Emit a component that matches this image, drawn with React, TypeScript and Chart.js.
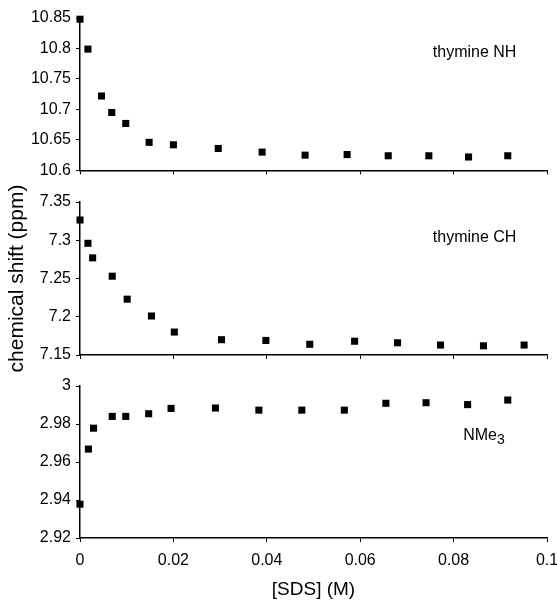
import React, { useEffect, useRef } from "react";
import { Chart, registerables } from "chart.js";

Chart.register(...registerables);

// ---- data ----
const sdsNH = [0, 0.0017, 0.0046, 0.0068, 0.0098, 0.0148, 0.02, 0.0296, 0.039, 0.0482, 0.0572, 0.066, 0.0747, 0.0832, 0.0916];
const shiftNH = [10.848, 10.799, 10.722, 10.695, 10.677, 10.646, 10.642, 10.636, 10.63, 10.625, 10.626, 10.624, 10.624, 10.622, 10.624];

const sdsCH = [0, 0.0017, 0.0027, 0.0069, 0.0101, 0.0153, 0.0202, 0.0303, 0.0398, 0.0492, 0.0588, 0.068, 0.0772, 0.0864, 0.0951];
const shiftCH = [7.3265, 7.296, 7.277, 7.253, 7.223, 7.201, 7.18, 7.17, 7.169, 7.164, 7.168, 7.166, 7.163, 7.162, 7.163];

const sdsNMe = [0, 0.0018, 0.0029, 0.0069, 0.0098, 0.0147, 0.0195, 0.029, 0.0383, 0.0475, 0.0566, 0.0655, 0.0741, 0.083, 0.0916];
const shiftNMe = [2.9378, 2.9668, 2.9778, 2.984, 2.984, 2.9854, 2.9882, 2.9884, 2.9873, 2.9873, 2.9873, 2.9909, 2.9912, 2.9902, 2.9926];

const xTickValues = [0, 0.02, 0.04, 0.06, 0.08, 0.1];
const xTickLabels = ["0", "0.02", "0.04", "0.06", "0.08", "0.1"];
const nhTickValues = [10.6, 10.65, 10.7, 10.75, 10.8, 10.85];
const nhTickLabels = ["10.6", "10.65", "10.7", "10.75", "10.8", "10.85"];
const chTickValues = [7.15, 7.2, 7.25, 7.3, 7.35];
const chTickLabels = ["7.15", "7.2", "7.25", "7.3", "7.35"];
const nmeTickValues = [2.92, 2.94, 2.96, 2.98, 3];
const nmeTickLabels = ["2.92", "2.94", "2.96", "2.98", "3"];

const labelNH = { text: "thymine NH", sub: "", x: 0.0845, y: 10.793 };
const labelCH = { text: "thymine CH", sub: "", x: 0.0845, y: 7.303 };
const labelNMe = { text: "NMe", sub: "3", x: 0.0865, y: 2.974 };

const xTitle = "[SDS] (M)";
const yTitle = "chemical shift (ppm)";

const FONT = "'Liberation Sans', Arial, Helvetica, sans-serif";

const panelLabelPlugin = {
  id: "panelLabel",
  afterDatasetsDraw(chart: any, _args: any, opts: any) {
    if (!opts || !opts.text) return;
    const { ctx, scales } = chart;
    const px = scales.x.getPixelForValue(opts.x);
    const py = scales.y.getPixelForValue(opts.y);
    const size = opts.size || 16;
    ctx.save();
    ctx.fillStyle = "#000";
    ctx.textBaseline = "middle";
    ctx.textAlign = "left";
    ctx.font = `${size}px ${FONT}`;
    const wMain = ctx.measureText(opts.text).width;
    let wSub = 0;
    if (opts.sub) {
      ctx.font = `${Math.round(size * 0.85)}px ${FONT}`;
      wSub = ctx.measureText(opts.sub).width;
    }
    const start = px - (wMain + wSub) / 2;
    ctx.font = `${size}px ${FONT}`;
    ctx.fillText(opts.text, start, py);
    if (opts.sub) {
      ctx.font = `${Math.round(size * 0.85)}px ${FONT}`;
      ctx.fillText(opts.sub, start + wMain, py + size * 0.3);
    }
    ctx.restore();
  },
};

function makeConfig(p: any) {
  return {
    type: "scatter",
    data: {
      datasets: [
        {
          data: p.xs.map((x: number, i: number) => ({ x, y: p.ys[i] })),
          pointStyle: "rect",
          pointRadius: 5,
          pointHoverRadius: 5,
          backgroundColor: "#000",
          borderColor: "#000",
          borderWidth: 0,
          showLine: false,
          clip: false,
        },
      ],
    },
    plugins: [panelLabelPlugin],
    options: {
      responsive: false,
      animation: false,
      devicePixelRatio: 1,
      layout: { padding: { top: p.padTop, right: 10, left: 0, bottom: 0 } },
      plugins: {
        legend: { display: false },
        tooltip: { enabled: false },
        panelLabel: { ...p.label, size: 16 },
      },
      scales: {
        x: {
          type: "linear",
          min: 0,
          max: 0.1,
          afterBuildTicks: (s: any) => {
            s.ticks = xTickValues.map((v) => ({ value: v }));
          },
          afterFit: (s: any) => {
            s.height = p.xHeight;
            s.paddingRight = 0;
            s.paddingLeft = 0;
          },
          border: { display: true, color: "#000", width: 1.5 },
          grid: { display: true, drawOnChartArea: false, drawTicks: true, tickLength: 4, color: "#000", lineWidth: 1 },
          ticks: {
            display: p.showX,
            padding: 9,
            color: "#000",
            font: { family: FONT, size: 16 },
            maxRotation: 0,
            callback: (v: number) => {
              const i = xTickValues.findIndex((t) => Math.abs(t - v) < 1e-9);
              return i >= 0 ? xTickLabels[i] : "";
            },
          },
          title: {
            display: p.showX,
            text: xTitle,
            color: "#000",
            font: { family: FONT, size: 19 },
            padding: { top: 0, bottom: 3 },
          },
        },
        y: {
          type: "linear",
          min: p.min,
          max: p.max,
          afterBuildTicks: (s: any) => {
            s.ticks = p.tickValues.map((v: number) => ({ value: v }));
          },
          afterFit: (s: any) => {
            s.width = 80;
          },
          border: { display: true, color: "#000", width: 1.5 },
          grid: { display: true, drawOnChartArea: false, drawTicks: true, tickLength: 4, color: "#000", lineWidth: 1 },
          ticks: {
            padding: 5,
            color: "#000",
            font: { family: FONT, size: 16 },
            callback: (v: number) => {
              const i = p.tickValues.findIndex((t: number) => Math.abs(t - v) < 1e-9);
              return i >= 0 ? p.tickLabels[i] : "";
            },
          },
          title: {
            display: p.showYTitle,
            text: yTitle,
            color: "#000",
            font: { family: FONT, size: 21 },
            padding: { top: 5, bottom: 0 },
          },
        },
      },
    },
  };
}

// canvases are transparent and may overlap; chart areas: 18-172, 202-355, 386-538
const panels = [
  { key: "nh", top: 0, height: 185, padTop: 18, xHeight: 13, xs: sdsNH, ys: shiftNH, min: 10.6, max: 10.85, tickValues: nhTickValues, tickLabels: nhTickLabels, label: labelNH, showX: false, showYTitle: false },
  { key: "ch", top: 160, height: 230, padTop: 42, xHeight: 35, xs: sdsCH, ys: shiftCH, min: 7.15, max: 7.35, tickValues: chTickValues, tickLabels: chTickLabels, label: labelCH, showX: false, showYTitle: true },
  { key: "nme", top: 370, height: 234, padTop: 16, xHeight: 66, xs: sdsNMe, ys: shiftNMe, min: 2.92, max: 3, tickValues: nmeTickValues, tickLabels: nmeTickLabels, label: labelNMe, showX: true, showYTitle: false },
];

function Panel({ p }: { p: any }) {
  const ref = useRef<HTMLCanvasElement | null>(null);
  useEffect(() => {
    if (!ref.current) return;
    const chart = new Chart(ref.current, makeConfig(p) as any);
    return () => chart.destroy();
  }, []);
  return (
    <canvas
      ref={ref}
      width={557}
      height={p.height}
      style={{ position: "absolute", left: 0, top: p.top, width: 557, height: p.height }}
    />
  );
}

export default function App() {
  useEffect(() => {
    document.body.style.margin = "0";
    document.body.style.background = "#fff";
  }, []);
  return (
    <div style={{ position: "relative", width: 557, height: 604, background: "#fff", overflow: "hidden" }}>
      {panels.map((p) => (
        <Panel key={p.key} p={p} />
      ))}
    </div>
  );
}
